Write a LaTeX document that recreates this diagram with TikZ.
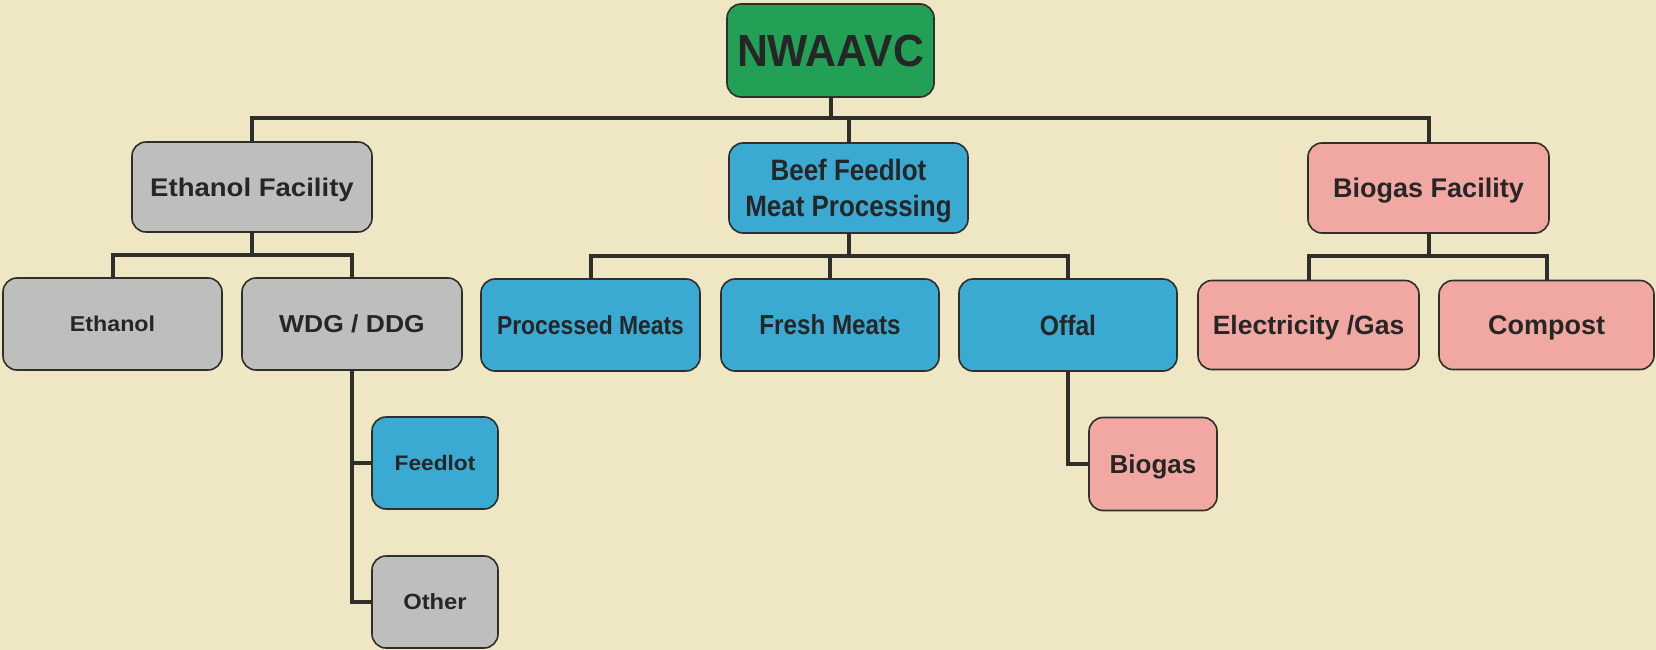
\documentclass[tikz,border=0pt]{standalone}
\usepackage{fontspec}
\setmainfont{Liberation Sans}
\newfontfamily\gfam[FakeStretch=1.08]{Liberation Sans}
\newfontfamily\cfam[FakeStretch=0.88]{Liberation Sans}
\newfontfamily\pfam{Liberation Sans}
\newfontfamily\nfam[FakeStretch=0.95]{Liberation Sans}
\newcommand\gfz[1]{\gfam\bfseries\fontsize{#1}{#1}\selectfont}
\newcommand\cfz[1]{\cfam\bfseries\fontsize{#1}{36}\selectfont}
\newcommand\pfz[1]{\pfam\bfseries\fontsize{#1}{#1}\selectfont}
\definecolor{bgc}{HTML}{EFE6C3}
\definecolor{greenc}{HTML}{22A055}
\definecolor{greyc}{HTML}{BEBEBC}
\definecolor{bluec}{HTML}{3AAAD2}
\definecolor{pinkc}{HTML}{F2A8A2}
\definecolor{linec}{HTML}{2E2E2A}
\definecolor{txtc}{HTML}{262626}
\tikzset{
  box/.style={draw=linec, line width=1.6pt, rounded corners=14pt, text=txtc,
    inner sep=0pt, align=center, text depth=0pt},
  greybox/.style={box, fill=greyc},
  bluebox/.style={box, fill=bluec},
  pinkbox/.style={box, fill=pinkc},
  conn/.style={draw=linec, line width=4pt},
}
\begin{document}
\begin{tikzpicture}[x=1pt,y=-1pt]
\fill[bgc] (0,0) rectangle (1656,650);
\useasboundingbox (0,0) rectangle (1656,650);
% top
\node[box, fill=greenc, minimum width=207pt, minimum height=93pt,
  font={\nfam\bfseries\fontsize{45}{45}\selectfont}] (nw) at (830.5,50.5) {NWAAVC};
% second row
\node[greybox, minimum width=240pt, minimum height=90pt, font={\gfz{25.5}}] (ef) at (252,187) {Ethanol Facility};
\node[bluebox, minimum width=239pt, minimum height=90pt, font={\cfz{29.5}}] (bf) at (848.5,188) {Beef Feedlot\\Meat Processing};
\node[pinkbox, minimum width=241pt, minimum height=90pt, font={\pfz{27}}] (bg) at (1428.5,188) {Biogas Facility};
% third row
\node[greybox, minimum width=219pt, minimum height=92pt, font={\gfz{21.5}}] (eth) at (112.5,324) {Ethanol};
\node[greybox, minimum width=220pt, minimum height=92pt, font={\gfz{24.5}}] (wdg) at (352,324) {WDG / DDG};
\node[bluebox, minimum width=219pt, minimum height=92pt, font={\cfz{26}}] (pm) at (590.5,325) {Processed Meats};
\node[bluebox, minimum width=218pt, minimum height=92pt, font={\cfz{27.5}}] (fm) at (830,325) {Fresh Meats};
\node[bluebox, minimum width=218pt, minimum height=92pt, font={\cfz{28}}] (of) at (1068,325) {Offal};
\node[pinkbox, minimum width=221pt, minimum height=89pt, font={\pfz{26.5}}] (el) at (1308.5,325) {Electricity /Gas};
\node[pinkbox, minimum width=215pt, minimum height=89pt, font={\pfz{27}}] (co) at (1546.5,325) {Compost};
% lower
\node[bluebox, minimum width=126pt, minimum height=92pt, font={\gfz{21}}] (fl) at (435,463) {Feedlot};
\node[greybox, minimum width=126pt, minimum height=92pt, font={\gfz{22}}] (ot) at (435,602) {Other};
\node[pinkbox, minimum width=128pt, minimum height=93pt, font={\pfz{26}}] (bs) at (1153,464) {Biogas};
% connectors
\coordinate (tb) at (830.5,118);
\coordinate (efb) at (252,255);
\coordinate (bfb) at (848.5,256);
\coordinate (bgb) at (1428.5,256);
\draw[conn] (nw.south) -- (tb);
\draw[conn] (ef.north) |- (tb) -| (bg.north);
\draw[conn] (bf.north) -- (bf.north |- tb);
\draw[conn] (ef.south) -- (efb);
\draw[conn] (eth.north) |- (efb) -| (wdg.north);
\draw[conn] (bf.south) -- (bfb);
\draw[conn] (pm.north) |- (bfb) -| (of.north);
\draw[conn] (fm.north) -- (fm.north |- bfb);
\draw[conn] (bg.south) -- (bgb);
\draw[conn] (el.north) |- (bgb) -| (co.north);
\draw[conn] (wdg.south) |- (fl.west);
\draw[conn] (wdg.south) |- (ot.west);
\draw[conn] (of.south) |- (bs.west);
\end{tikzpicture}
\end{document}
